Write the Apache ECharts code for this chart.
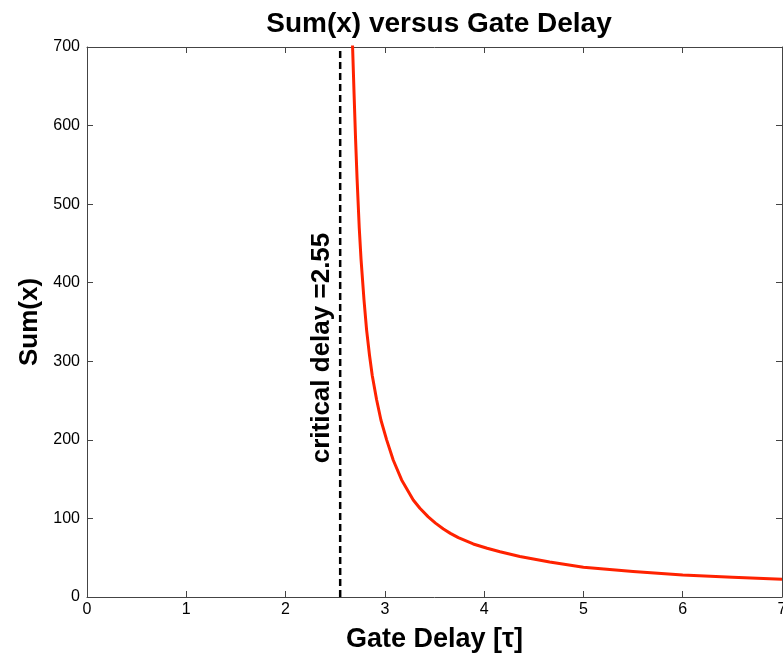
<!DOCTYPE html>
<html><head><meta charset="utf-8">
<script src="https://cdn.jsdelivr.net/npm/echarts@6/dist/echarts.min.js"></script>
<style>html,body{margin:0;padding:0;background:#fff}#c{width:783px;height:655px}</style>
</head><body><div id="c"></div>
<script>
const titleText = "Sum(x) versus Gate Delay";
const xName = "Gate Delay [\u03c4]";
const yName = "Sum(x)";
const criticalDelay = 2.55;
const criticalLabel = "critical delay =2.55";
const delayX = [2.66, 2.675, 2.69, 2.705, 2.72, 2.742, 2.76, 2.79, 2.816, 2.845, 2.873, 2.917, 2.961, 3.018, 3.085, 3.169, 3.286, 3.353, 3.437, 3.51, 3.59, 3.66, 3.74, 3.89, 4.03, 4.16, 4.36, 4.66, 5.0, 5.5, 6.0, 6.5, 7.0];
const sumY   = [750, 700, 640, 583, 533, 470, 430, 378, 340, 308, 282, 251, 225, 200, 174, 149, 123.5, 113, 102, 94, 86.5, 81, 75.5, 67.5, 62, 57.5, 51.5, 44.5, 38, 32.5, 28, 25, 22.5];
const xTicks = [0,1,2,3,4,5,6,7];
const yTicks = [0,100,200,300,400,500,600,700];

const font = "'Liberation Sans', Arial, Helvetica, sans-serif";
const chart = echarts.init(document.getElementById('c'), null, {renderer:'canvas'});
const axisCommon = {
  axisLine:{show:true, onZero:false, lineStyle:{color:'#444', width:1}},
  axisTick:{show:true, inside:true, length:6, lineStyle:{color:'#444'}},
  splitLine:{show:false}
};
chart.setOption({
  animation:false,
  backgroundColor:'#fff',
  title:{text:titleText, left:434, textAlign:'center', top:5,
    textStyle:{fontFamily:font, fontWeight:'bold', fontSize:28, color:'#000'}},
  grid:{left:87, right:1, top:47, bottom:58, containLabel:false, outerBoundsMode:'none'},
  xAxis:[
    Object.assign({type:'value', min:xTicks[0], max:xTicks[xTicks.length-1], interval:1, position:'bottom',
      name:xName, nameLocation:'middle', nameGap:29,
      nameTextStyle:{fontFamily:font, fontWeight:'bold', fontSize:27, color:'#000'},
      axisLabel:{fontFamily:font, fontSize:16, color:'#000', margin:5}}, axisCommon),
    Object.assign({type:'value', min:0, max:7, interval:1, position:'top', axisLabel:{show:false}}, axisCommon)
  ],
  yAxis:[
    Object.assign({type:'value', min:yTicks[0], max:yTicks[yTicks.length-1], interval:100, position:'left',
      name:yName, nameLocation:'middle', nameGap:41, nameRotate:90,
      nameTextStyle:{fontFamily:font, fontWeight:'bold', fontSize:26, color:'#000'},
      axisLabel:{fontFamily:font, fontSize:16, color:'#000', margin:7}}, axisCommon),
    Object.assign({type:'value', min:0, max:700, interval:100, position:'right', axisLabel:{show:false}}, axisCommon)
  ],
  series:[
    {type:'line', xAxisIndex:0, yAxisIndex:0, data:[[criticalDelay,0],[criticalDelay,700]],
     showSymbol:false, lineStyle:{color:'#000', width:2.5, type:[7,4]}, z:3},
    {type:'line', xAxisIndex:0, yAxisIndex:0, data:delayX.map((x,i)=>[x,sumY[i]]),
     smooth:false, showSymbol:false, clip:true, lineStyle:{color:'#ff2200', width:3, join:'round'}, z:4}
  ],
  graphic:[
    {type:'text', x:322, y:348, rotation:Math.PI/2,
     style:{text:criticalLabel, fontFamily:font, fontWeight:'bold', fontSize:26, fill:'#000',
       textAlign:'center', textVerticalAlign:'middle'}}
  ]
});
</script></body></html>
